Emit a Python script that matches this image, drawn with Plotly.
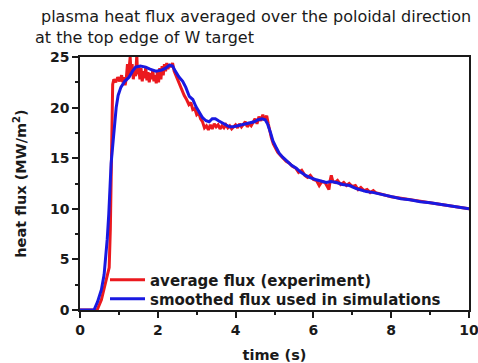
import plotly.graph_objects as go

# --- data: average flux (experiment) ---
exp_t = [0, 0.44, 0.55, 0.65, 0.72, 0.75, 0.78, 0.80, 0.82, 0.84, 0.87, 0.92, 0.97, 1.02, 1.07, 1.10,
         1.13, 1.16, 1.19, 1.22, 1.24, 1.27, 1.29, 1.31, 1.34, 1.37, 1.40, 1.43, 1.46, 1.48, 1.51,
         1.54, 1.57, 1.60, 1.63, 1.66, 1.69, 1.72, 1.75, 1.78, 1.81, 1.84, 1.87, 1.90, 1.93, 1.96,
         1.99, 2.02, 2.05, 2.08, 2.11, 2.14, 2.17, 2.20, 2.23, 2.26, 2.30, 2.34, 2.38, 2.42, 2.48,
         2.55, 2.62, 2.68, 2.74, 2.80, 2.85, 2.90, 2.95, 3.00, 3.05, 3.10, 3.15, 3.20, 3.25, 3.30,
         3.35, 3.40, 3.45, 3.50, 3.55, 3.60, 3.65, 3.70, 3.75, 3.80, 3.85, 3.90, 3.95, 4.00, 4.05,
         4.10, 4.15, 4.20, 4.25, 4.30, 4.35, 4.40, 4.45, 4.50, 4.55, 4.60, 4.65, 4.70, 4.75, 4.80,
         4.84, 4.88, 4.92, 4.97, 5.02, 5.08, 5.15, 5.22, 5.30, 5.38, 5.46, 5.55, 5.62, 5.70, 5.78,
         5.85, 5.92, 6.00, 6.08, 6.15, 6.22, 6.30, 6.36, 6.40, 6.43, 6.46, 6.50, 6.56, 6.62, 6.70,
         6.78, 6.85, 6.92, 7.00, 7.08, 7.15, 7.22, 7.30, 7.38, 7.46, 7.54, 7.60, 8.00, 9.00, 10.0]
exp_q = [0, 0, 1.0, 2.5, 3.5, 4.2, 8.0, 12.0, 18.0, 22.3, 22.8, 22.5, 23.0, 22.6, 23.2, 22.5,
         23.0, 22.2, 22.9, 24.3, 23.0, 24.2, 25.0, 23.5, 24.3, 22.8, 23.8, 23.1, 25.2, 23.3, 24.0,
         22.8, 23.9, 22.6, 23.6, 22.9, 24.0, 22.7, 23.5, 22.5, 23.4, 22.8, 23.8, 22.6, 23.2, 22.4,
         23.6, 22.5, 23.9, 22.8, 24.1, 23.2, 24.3, 23.6, 24.4, 23.8, 24.3, 24.0, 24.4, 23.6, 23.0,
         22.5, 21.8, 21.2, 20.8, 20.3, 20.5, 19.8, 19.9, 19.3, 19.5, 18.9, 18.6, 18.0, 18.2, 17.8,
         18.3, 17.9, 18.4, 18.1, 18.3, 17.9, 18.2, 18.0, 18.3, 18.0, 18.2, 17.9, 18.1, 18.3, 18.0,
         18.4, 18.1, 18.3, 18.6, 18.1, 18.4, 18.2, 18.6, 18.9, 18.4, 19.1, 18.7, 19.3, 18.8, 19.2,
         18.4, 17.6, 17.0, 16.4, 16.0, 15.6, 15.3, 15.0, 14.7, 14.5, 14.2, 14.0, 13.6, 13.8, 13.3,
         13.1, 13.3, 12.9, 12.8, 12.3, 12.7, 12.6, 12.1, 11.9, 12.8, 13.3, 12.7, 12.6, 12.8, 12.4,
         12.6, 12.3, 12.5, 12.2, 12.3, 11.9, 12.1, 11.8, 11.9, 11.6, 11.8, 11.6, 11.2, 10.6, 10.0]

# --- data: smoothed flux used in simulations ---
sim_t = [0, 0.36, 0.45, 0.55, 0.62, 0.66, 0.70, 0.74, 0.77, 0.80, 0.84, 0.88, 0.93, 0.98, 1.05,
         1.15, 1.26, 1.35, 1.43, 1.55, 1.69, 1.80, 1.95, 2.10, 2.20, 2.30, 2.38, 2.45, 2.55, 2.64,
         2.72, 2.81, 2.90, 2.98, 3.07, 3.15, 3.24, 3.32, 3.40, 3.48, 3.56, 3.66, 3.75, 3.84, 3.95,
         4.05, 4.15, 4.27, 4.38, 4.48, 4.58, 4.68, 4.76, 4.82, 4.90, 4.96, 5.05, 5.12, 5.21, 5.32,
         5.44, 5.56, 5.68, 5.80, 5.90, 6.05, 6.20, 6.33, 6.45, 6.59, 6.75, 6.93, 7.10, 7.25, 7.36,
         7.55, 7.79, 8.00, 8.25, 8.48, 8.75, 9.00, 9.30, 9.60, 10.0]
sim_q = [0, 0, 0.8, 2.0, 3.5, 5.0, 7.0, 9.5, 12.0, 14.5, 16.2, 18.0, 20.0, 21.2, 22.0,
         22.6, 23.0, 23.6, 24.0, 24.1, 24.0, 23.8, 23.6, 23.7, 23.9, 24.2, 24.1, 23.6, 23.0, 22.6,
         22.0, 21.1, 20.8, 20.1, 19.5, 19.0, 18.7, 18.6, 18.9, 18.9, 18.7, 18.5, 18.3, 18.1, 18.1,
         18.2, 18.3, 18.4, 18.5, 18.6, 18.8, 18.9, 18.8, 18.4, 17.5, 16.7, 16.0, 15.5, 15.1, 14.7,
         14.3, 14.0, 13.6, 13.3, 13.1, 12.9, 12.7, 12.6, 12.7, 12.6, 12.4, 12.3, 12.0, 11.8, 11.7,
         11.6, 11.4, 11.2, 11.0, 10.9, 10.7, 10.6, 10.4, 10.2, 10.0]

title_lines = ["plasma heat flux averaged over the poloidal direction", "at the top edge of W target"]
x_ticks = [0, 2, 4, 6, 8, 10]
y_ticks = [0, 5, 10, 15, 20, 25]

FONT = "DejaVu Sans"
INK = "#1a1a1a"
L, R, T, B = 80, 9, 57, 53
PW, PH = 478 - L - R, 363 - T - B


def px_x(p):
    return (p - L) / PW


def px_y(p):
    return (363 - B - p) / PH


fig = go.Figure()
fig.add_trace(go.Scatter(x=exp_t, y=exp_q, mode="lines", name="average flux (experiment)",
                         line=dict(color="rgb(235,25,30)", width=3), legend="legend"))
fig.add_trace(go.Scatter(x=sim_t, y=sim_q, mode="lines", name="smoothed flux used in simulations",
                         line=dict(color="rgb(25,25,225)", width=3), legend="legend2"))

axis_common = dict(showgrid=False, zeroline=False, showline=True, linecolor=INK, linewidth=1.5,
                   mirror=True, ticks="outside", ticklen=6, tickwidth=1.5, tickcolor=INK,
                   automargin=False, ticklabeloverflow="allow",
                   tickfont=dict(family=FONT, size=14, color=INK, weight="bold"))

fig.update_xaxes(range=[0, 10], tickvals=x_ticks, ticktext=[str(v) for v in x_ticks],
                 minor=dict(dtick=1, ticks="outside", ticklen=3, tickwidth=1.5, tickcolor=INK),
                 title=dict(text="time (s)", font=dict(family=FONT, size=14.5, color=INK, weight="bold"),
                            standoff=15),
                 **axis_common)
fig.update_yaxes(range=[0, 25], tickvals=y_ticks, ticktext=[str(v) for v in y_ticks],
                 minor=dict(dtick=2.5, ticks="outside", ticklen=3, tickwidth=1.5, tickcolor=INK),
                 title=dict(text="heat flux (MW/m<sup>2</sup>)",
                            font=dict(family=FONT, size=14.5, color=INK, weight="bold"), standoff=20),
                 **axis_common)

fig.add_annotation(text=title_lines[0], xref="paper", yref="paper", x=px_x(39), y=px_y(16.5),
                   xanchor="left", yanchor="middle", showarrow=False,
                   font=dict(family=FONT, size=16, color=INK))
fig.add_annotation(text=title_lines[1], xref="paper", yref="paper", x=px_x(33), y=px_y(37),
                   xanchor="left", yanchor="middle", showarrow=False,
                   font=dict(family=FONT, size=16, color=INK))

leg_common = dict(xanchor="left", yanchor="middle", bgcolor="rgba(0,0,0,0)", borderwidth=0,
                  font=dict(family=FONT, size=15, color=INK, weight="bold"), itemwidth=35)

fig.update_layout(
    width=478, height=363,
    margin=dict(l=L, r=R, t=T, b=B, autoexpand=False),
    plot_bgcolor="white", paper_bgcolor="white",
    showlegend=True,
    legend=dict(x=px_x(105), y=px_y(280), **leg_common),
    legend2=dict(x=px_x(105), y=px_y(299), **leg_common),
)

fig.write_html("out.html")
